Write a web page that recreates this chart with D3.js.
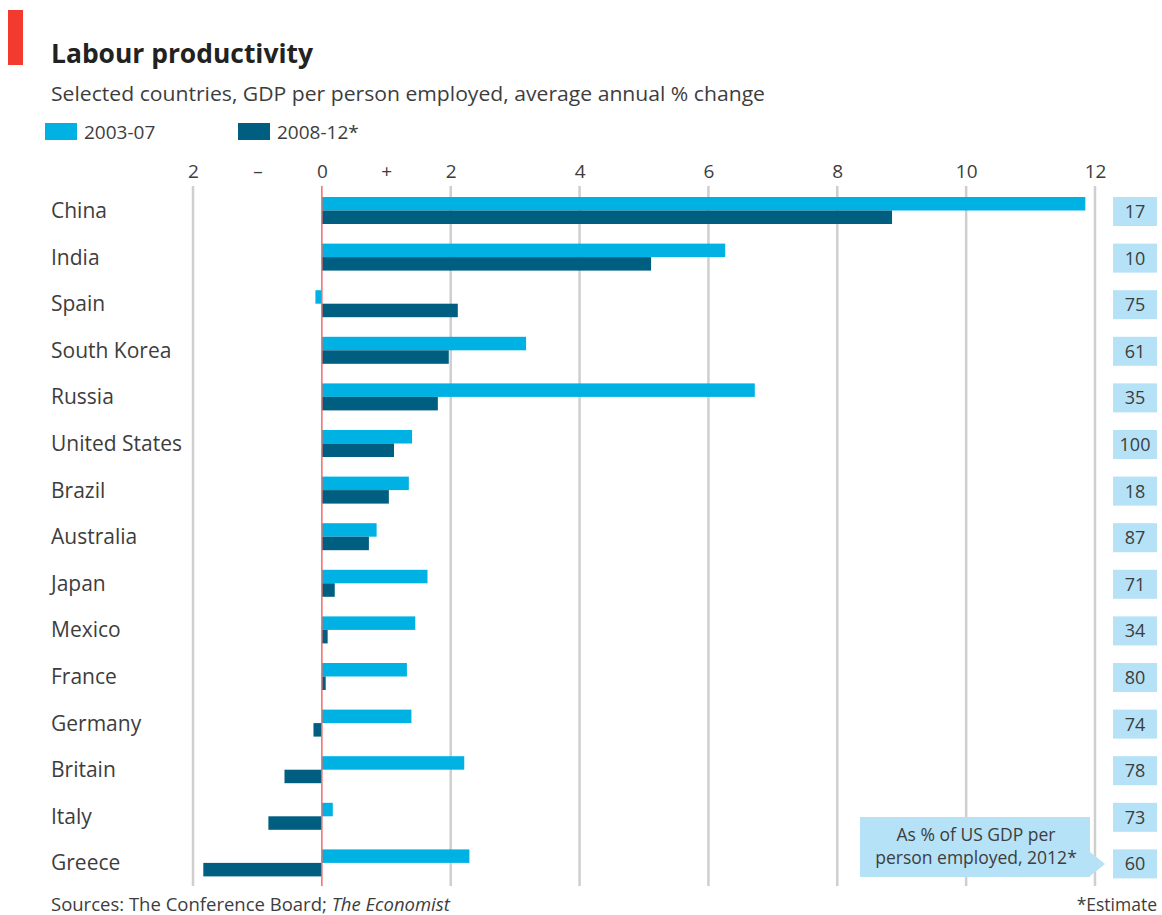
<!DOCTYPE html>
<html><head><meta charset="utf-8">
<script src="https://cdn.jsdelivr.net/npm/d3@7"></script>
<style>
body{margin:0;background:#fff;}
svg text{font-family:"Open Sans","Noto Sans",sans-serif;}
</style></head>
<body>
<svg id="c" width="1162" height="915"></svg>
<script>
const countries = ["China","India","Spain","South Korea","Russia","United States","Brazil","Australia","Japan","Mexico","France","Germany","Britain","Italy","Greece"];
const s2003 = [11.85,6.26,-0.1,3.17,6.72,1.40,1.35,0.85,1.64,1.45,1.32,1.39,2.21,0.17,2.29];
const s2008 = [8.85,5.11,2.11,1.97,1.80,1.12,1.04,0.73,0.20,0.09,0.06,-0.13,-0.58,-0.83,-1.84];
const usShare = [17,10,75,61,35,100,18,87,71,34,80,74,78,73,60];
const tickValues = [-2,-1,0,1,2,4,6,8,10,12];
const tickLabels = ["2","–","0","+","2","4","6","8","10","12"];
const gridValues = [-2,2,4,6,8,10,12];
const seriesNames = ["2003-07","2008-12*"];

const light = "#00b2e3", dark = "#005f80", boxFill = "#b5e2f7", textCol = "#3d3d3d";
const svg = d3.select("#c");

const x = d3.scaleLinear().domain([-2,12]).range([193,1095]);
const y = d3.scaleBand().domain(countries).range([187,886]).paddingInner(0).paddingOuter(0);
const barH = 13.5;

// header
svg.append("rect").attr("x",8).attr("y",10).attr("width",15).attr("height",55).attr("fill","#f23a30");
svg.append("text").attr("x",51).attr("y",63).attr("font-size",27).attr("font-weight","bold").attr("fill","#222")
  .attr("textLength",262).attr("lengthAdjust","spacingAndGlyphs").text("Labour productivity");
svg.append("text").attr("x",51).attr("y",101).attr("font-size",19.5).attr("fill",textCol)
  .attr("textLength",714).attr("lengthAdjust","spacingAndGlyphs")
  .text("Selected countries, GDP per person employed, average annual % change");

// legend
const legX = [45,238];
seriesNames.forEach((n,i)=>{
  svg.append("rect").attr("x",legX[i]).attr("y",123).attr("width",32).attr("height",17).attr("fill",i?dark:light);
  svg.append("text").attr("x",legX[i]+39).attr("y",139).attr("font-size",19).attr("fill",textCol).text(n);
});

// axis tick labels
const ax = svg.append("g").attr("transform","translate(0,178)")
  .call(d3.axisTop(x).tickValues(tickValues).tickFormat((d,i)=>tickLabels[i]).tickSize(0).tickPadding(0));
ax.select(".domain").remove();
ax.selectAll("text").attr("font-size",19).attr("fill",textCol).attr("font-family","Open Sans, sans-serif");

// gridlines
svg.append("g").selectAll("line").data(gridValues).join("line")
  .attr("x1",d=>x(d)).attr("x2",d=>x(d)).attr("y1",186).attr("y2",886)
  .attr("stroke","#cfcfcf").attr("stroke-width",2.5);

// bars
const rows = countries.map((c,i)=>({c,a:s2003[i],b:s2008[i],u:usShare[i]}));
const g = svg.append("g");
g.selectAll("rect.a").data(rows).join("rect").attr("class","a")
  .attr("x",d=>x(Math.min(0,d.a))).attr("width",d=>Math.abs(x(d.a)-x(0)))
  .attr("y",d=>y(d.c)+10).attr("height",barH).attr("fill",light);
g.selectAll("rect.b").data(rows).join("rect").attr("class","b")
  .attr("x",d=>x(Math.min(0,d.b))).attr("width",d=>Math.abs(x(d.b)-x(0)))
  .attr("y",d=>y(d.c)+10+barH).attr("height",barH).attr("fill",dark);

// zero line
svg.append("line").attr("x1",x(0)).attr("x2",x(0)).attr("y1",186).attr("y2",886)
  .attr("stroke","#f26b6b").attr("stroke-width",1.5);

// country labels
svg.append("g").selectAll("text").data(rows).join("text")
  .attr("x",51).attr("y",d=>y(d.c)+31).attr("font-size",21).attr("fill",textCol).text(d=>d.c);

// right boxes
const bx = svg.append("g");
bx.selectAll("rect").data(rows).join("rect")
  .attr("x",1113).attr("width",44).attr("y",d=>y(d.c)+10).attr("height",29).attr("fill",boxFill);
bx.selectAll("text").data(rows).join("text")
  .attr("x",1135).attr("y",d=>y(d.c)+31).attr("text-anchor","middle").attr("font-size",18).attr("fill",textCol).text(d=>d.u);

// annotation callout
const gy = y("Greece")+24.5;
svg.append("path").attr("d",`M860,817 H1090 V${gy-12} L1105,${gy} L1090,${gy+12} V877 H860 Z`).attr("fill",boxFill);
svg.append("text").attr("x",976).attr("y",841).attr("text-anchor","middle").attr("font-size",17.5).attr("fill",textCol).text("As % of US GDP per");
svg.append("text").attr("x",976).attr("y",864).attr("text-anchor","middle").attr("font-size",17.5).attr("fill",textCol).text("person employed, 2012*");

// footer
const src = svg.append("text").attr("x",51).attr("y",911).attr("font-size",18.5).attr("fill",textCol);
src.append("tspan").text("Sources: The Conference Board; ");
src.append("tspan").attr("font-style","italic").text("The Economist");
svg.append("text").attr("x",1157).attr("y",911).attr("text-anchor","end").attr("font-size",17.5).attr("fill",textCol).text("*Estimate");
</script>
</body></html>
